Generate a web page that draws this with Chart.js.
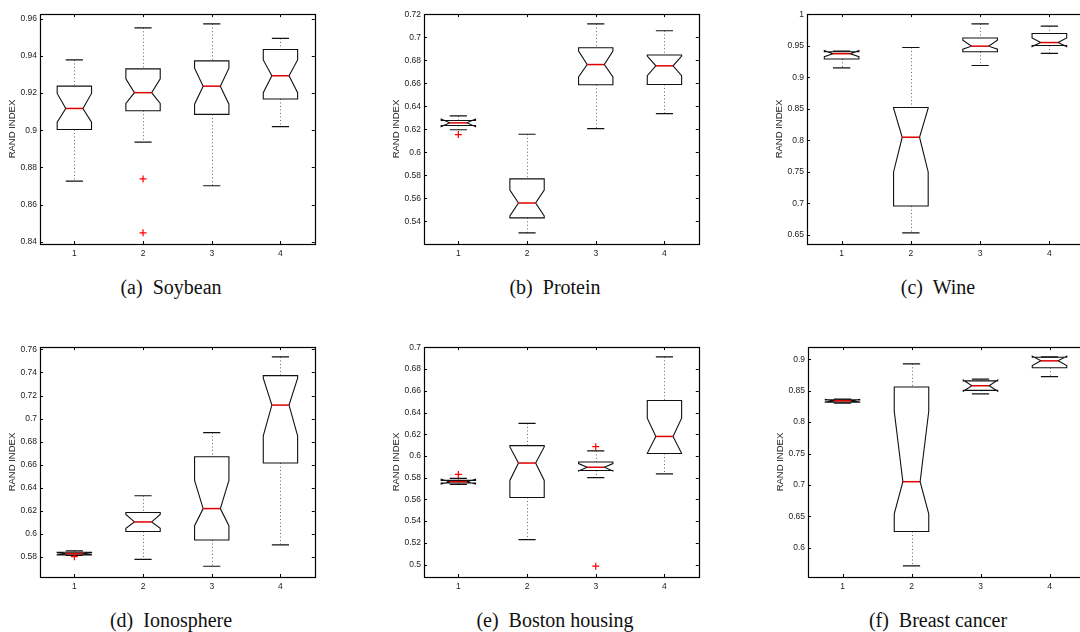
<!DOCTYPE html>
<html>
<head>
<meta charset="utf-8">
<script src="https://cdn.jsdelivr.net/npm/chart.js@4.4.1/dist/chart.umd.min.js"></script>
<style>
  body { margin: 0; background: #fff; width: 1080px; height: 632px; overflow: hidden; position: relative; }
  canvas { position: absolute; }
  .cap { position: absolute; width: 260px; text-align: center; white-space: pre;
         font: 20px "Liberation Serif", "Times New Roman", serif; line-height: 20px; color: #111; }
</style>
</head>
<body>
<script>
// data, one row per panel (a)..(f), one value per method 1..4
const categories = [1, 2, 3, 4];
const captions = ['(a)  Soybean', '(b)  Protein', '(c)  Wine',
                  '(d)  Ionosphere', '(e)  Boston housing', '(f)  Breast cancer'];

const upperWhisker = [
  [0.9378, 0.9551, 0.9572, 0.9494],
  [0.6317, 0.6158, 0.7117, 0.7058],
  [0.9418, 0.9475, 0.9849, 0.9813],
  [0.5854, 0.6331, 0.6879, 0.7535],
  [0.5793, 0.6300, 0.6047, 0.6913],
  [0.8365, 0.8927, 0.8682, 0.9036]
];
const q3 = [
  [0.9237, 0.9330, 0.9373, 0.9434],
  [0.6277, 0.5770, 0.6910, 0.6847],
  [0.9408, 0.8523, 0.9626, 0.9698],
  [0.5842, 0.6186, 0.6669, 0.7373],
  [0.5775, 0.6095, 0.5944, 0.6511],
  [0.8354, 0.8557, 0.8656, 0.9031]
];
const notchHigh = [
  [0.9198, 0.9276, 0.9334, 0.9378],
  [0.6290, 0.5673, 0.6881, 0.6838],
  [0.9425, 0.8510, 0.9589, 0.9626],
  [0.5838, 0.6169, 0.6464, 0.7350],
  [0.5785, 0.6083, 0.5930, 0.6348],
  [0.8360, 0.8172, 0.8668, 0.9050]
];
const medians = [
  [0.9117, 0.9202, 0.9237, 0.9293],
  [0.6257, 0.5560, 0.6764, 0.6753],
  [0.9376, 0.8050, 0.9496, 0.9553],
  [0.5829, 0.6104, 0.6220, 0.7117],
  [0.5763, 0.5935, 0.5896, 0.6180],
  [0.8339, 0.7052, 0.8578, 0.8974]
];
const notchLow = [
  [0.9043, 0.9144, 0.9140, 0.9202],
  [0.6224, 0.5447, 0.6656, 0.6667],
  [0.9330, 0.7498, 0.9449, 0.9490],
  [0.5820, 0.6050, 0.6072, 0.6850],
  [0.5741, 0.5775, 0.5862, 0.6025],
  [0.8320, 0.6542, 0.8492, 0.8900]
];
const q1 = [
  [0.9004, 0.9105, 0.9085, 0.9168],
  [0.6234, 0.5431, 0.6588, 0.6591],
  [0.9293, 0.6957, 0.9407, 0.9506],
  [0.5818, 0.6021, 0.5948, 0.6615],
  [0.5751, 0.5618, 0.5866, 0.6023],
  [0.8318, 0.6260, 0.8505, 0.8865]
];
const lowerWhisker = [
  [0.8726, 0.8936, 0.8701, 0.9019],
  [0.6197, 0.5300, 0.6206, 0.6337],
  [0.9152, 0.6531, 0.9189, 0.9381],
  [0.5815, 0.5780, 0.5720, 0.5905],
  [0.5739, 0.5229, 0.5800, 0.5836],
  [0.8302, 0.5714, 0.8448, 0.8724]
];
// [method, value]
const outliers = [
  [[2, 0.8738], [2, 0.8448]],
  [[1, 0.6155]],
  [],
  [[1, 0.5803]],
  [[1, 0.5830], [3, 0.6086], [3, 0.4985]],
  []
];
const yTicks = [
  [0.84, 0.86, 0.88, 0.9, 0.92, 0.94, 0.96],
  [0.54, 0.56, 0.58, 0.6, 0.62, 0.64, 0.66, 0.68, 0.7, 0.72],
  [0.65, 0.7, 0.75, 0.8, 0.85, 0.9, 0.95, 1],
  [0.58, 0.6, 0.62, 0.64, 0.66, 0.68, 0.7, 0.72, 0.74, 0.76],
  [0.5, 0.52, 0.54, 0.56, 0.58, 0.6, 0.62, 0.64, 0.66, 0.68, 0.7],
  [0.6, 0.65, 0.7, 0.75, 0.8, 0.85, 0.9]
];
const yMin = [0.83877, 0.52035, 0.63544, 0.56268, 0.48853, 0.55364];
const yMax = [0.96247, 0.72028, 1.0005, 0.76199, 0.7003, 0.91927];

// plot areas on the page
const panels = [
  { left: 40,  top: 10,  width: 276, height: 234, capX: 171, capY: 277 },
  { left: 424, top: 10,  width: 276, height: 234, capX: 555, capY: 277 },
  { left: 807, top: 10,  width: 277, height: 234, capX: 938, capY: 277 },
  { left: 40,  top: 343, width: 276, height: 234, capX: 171, capY: 610 },
  { left: 424, top: 343, width: 276, height: 234, capX: 555, capY: 610 },
  { left: 808, top: 343, width: 276, height: 234, capX: 938, capY: 610 }
];

const notchBox = {
  id: 'notchBox',
  beforeDatasetsDraw(chart, args, opts) {
    const p = opts.panel;
    const { x, y } = chart.scales;
    const ctx = chart.ctx;
    const py = v => y.getPixelForValue(v);
    ctx.save();
    categories.forEach((c, i) => {
      const xl = x.getPixelForValue(c - 0.25), xr = x.getPixelForValue(c + 0.25);
      const xil = x.getPixelForValue(c - 0.125), xir = x.getPixelForValue(c + 0.125);
      const xc = Math.round(x.getPixelForValue(c)) + 0.5;

      // whiskers
      ctx.strokeStyle = '#666';
      ctx.lineWidth = 1;
      ctx.setLineDash([1, 2.5]);
      ctx.beginPath();
      ctx.moveTo(xc, py(upperWhisker[p][i])); ctx.lineTo(xc, py(q3[p][i]));
      ctx.moveTo(xc, py(q1[p][i])); ctx.lineTo(xc, py(lowerWhisker[p][i]));
      ctx.stroke();
      ctx.setLineDash([]);

      ctx.strokeStyle = '#111';
      ctx.lineWidth = 1.2;
      ctx.beginPath();
      ctx.moveTo(xil, py(upperWhisker[p][i])); ctx.lineTo(xir, py(upperWhisker[p][i]));
      ctx.moveTo(xil, py(lowerWhisker[p][i])); ctx.lineTo(xir, py(lowerWhisker[p][i]));
      ctx.stroke();

      // notched box
      ctx.lineWidth = 1.1;
      ctx.beginPath();
      ctx.moveTo(xl, py(q1[p][i]));
      ctx.lineTo(xl, py(notchLow[p][i]));
      ctx.lineTo(xil, py(medians[p][i]));
      ctx.lineTo(xl, py(notchHigh[p][i]));
      ctx.lineTo(xl, py(q3[p][i]));
      ctx.lineTo(xr, py(q3[p][i]));
      ctx.lineTo(xr, py(notchHigh[p][i]));
      ctx.lineTo(xir, py(medians[p][i]));
      ctx.lineTo(xr, py(notchLow[p][i]));
      ctx.lineTo(xr, py(q1[p][i]));
      ctx.closePath();
      ctx.stroke();

      // median
      ctx.strokeStyle = '#dd0000';
      ctx.lineWidth = 1.5;
      ctx.beginPath();
      ctx.moveTo(xil, py(medians[p][i])); ctx.lineTo(xir, py(medians[p][i]));
      ctx.stroke();
    });
    ctx.restore();
  },
  afterDraw(chart, args, opts) {
    const p = opts.panel;
    const { x, y } = chart.scales;
    const { left, right, top, bottom } = chart.chartArea;
    const ctx = chart.ctx;
    const r = v => Math.round(v) + 0.5;
    ctx.save();
    ctx.strokeStyle = '#000';
    ctx.lineWidth = 1.2;
    ctx.strokeRect(r(left), r(top), Math.round(right - left), Math.round(bottom - top));
    ctx.lineWidth = 1;
    ctx.beginPath();
    yTicks[p].forEach(v => {
      const yy = r(y.getPixelForValue(v));
      ctx.moveTo(left, yy); ctx.lineTo(left + 3, yy);
      ctx.moveTo(right, yy); ctx.lineTo(right - 3, yy);
    });
    categories.forEach(c => {
      const xx = r(x.getPixelForValue(c));
      ctx.moveTo(xx, bottom); ctx.lineTo(xx, bottom - 3);
      ctx.moveTo(xx, top); ctx.lineTo(xx, top + 3);
    });
    ctx.stroke();
    ctx.restore();
  }
};

panels.forEach((pn, p) => {
  const cv = document.createElement('canvas');
  cv.width = pn.width + 44;
  cv.height = pn.height + 26;
  cv.style.left = (pn.left - 40) + 'px';
  cv.style.top = (pn.top - 4) + 'px';
  document.body.appendChild(cv);

  const cap = document.createElement('div');
  cap.className = 'cap';
  cap.textContent = captions[p];
  cap.style.left = (pn.capX - 130) + 'px';
  cap.style.top = pn.capY + 'px';
  document.body.appendChild(cap);

  new Chart(cv, {
    type: 'scatter',
    data: {
      datasets: [{
        data: outliers[p].map(o => ({ x: o[0], y: o[1] })),
        pointStyle: 'cross',
        radius: 3.5,
        borderColor: '#ff0000',
        borderWidth: 1.2
      }]
    },
    options: {
      responsive: false,
      animation: false,
      events: [],
      layout: { padding: { top: 4, right: 4, left: 0, bottom: 0 } },
      plugins: { legend: { display: false }, tooltip: { enabled: false }, notchBox: { panel: p } },
      scales: {
        x: {
          type: 'linear', min: 0.5, max: 4.5,
          afterBuildTicks: s => { s.ticks = categories.map(v => ({ value: v })); },
          afterFit: s => { s.height = 22; },
          grid: { display: false, drawTicks: false, tickLength: 0 }, border: { display: false },
          ticks: { autoSkip: false, maxRotation: 0, padding: 5, color: '#222',
                   font: { family: 'Liberation Sans', size: 8.5 }, callback: v => String(v) }
        },
        y: {
          type: 'linear', min: yMin[p], max: yMax[p],
          afterBuildTicks: s => { s.ticks = yTicks[p].map(v => ({ value: v })); },
          afterFit: s => { s.width = 40; },
          grid: { display: false, drawTicks: false, tickLength: 0 }, border: { display: false },
          ticks: { autoSkip: false, padding: 3, color: '#222',
                   font: { family: 'Liberation Sans', size: 8.5 }, callback: v => String(+v.toFixed(3)) },
          title: { display: true, text: 'RAND INDEX', color: '#222', padding: { top: 6.5, bottom: 0 },
                   font: { family: 'Liberation Sans', size: 9.5 } }
        }
      }
    },
    plugins: [notchBox]
  });
});
</script>
</body>
</html>
